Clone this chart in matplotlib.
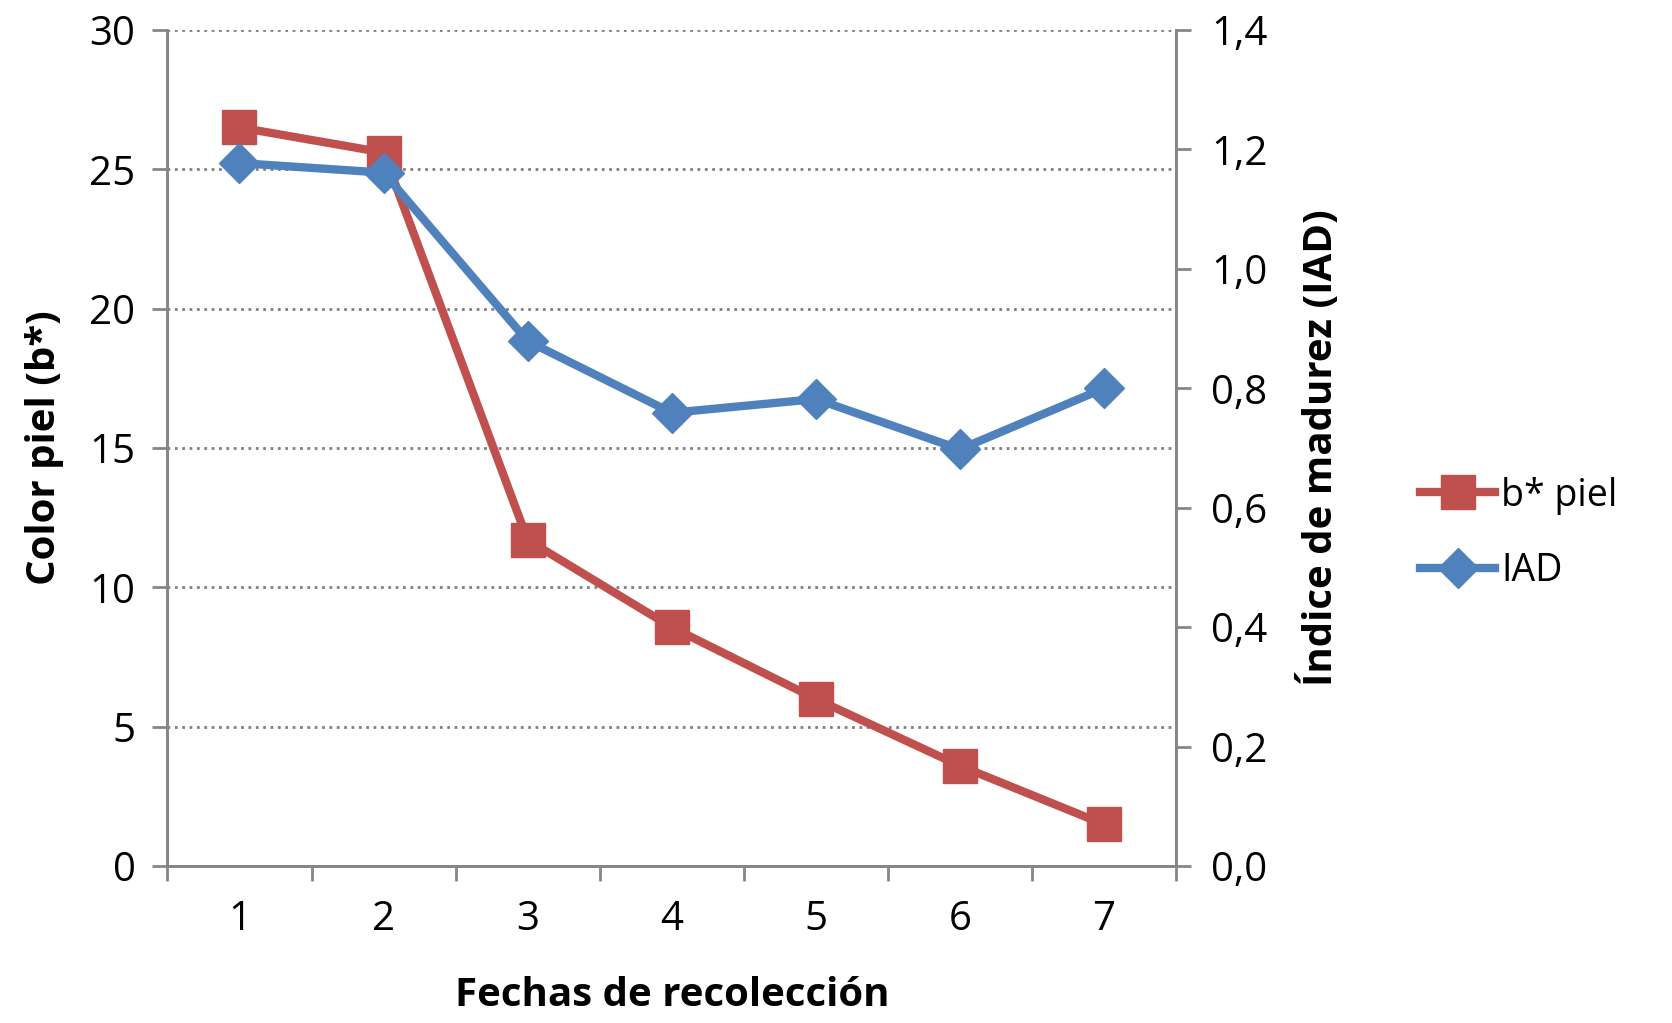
import matplotlib
matplotlib.use("Agg")
import matplotlib.pyplot as plt
from matplotlib.ticker import FixedLocator, NullFormatter

plt.rcParams['font.family'] = ['Open Sans', 'DejaVu Sans']

categories = ['1', '2', '3', '4', '5', '6', '7']
b_piel = [26.5, 25.6, 11.7, 8.57, 6.0, 3.6, 1.5]
iad = [1.177, 1.161, 0.879, 0.759, 0.782, 0.698, 0.80]
left_ticks = [0, 5, 10, 15, 20, 25, 30]
right_ticks = [0.0, 0.2, 0.4, 0.6, 0.8, 1.0, 1.2, 1.4]

W, H = 1568, 959
fig = plt.figure(figsize=(16.72, 10.23), dpi=100)
ax = fig.add_axes([157/W, 1-812/H, (1103-157)/W, (812-28)/H])
ax2 = ax.twinx()

x = list(range(len(categories)))
ax.set_xlim(-0.5, len(categories)-0.5)
ax.set_ylim(0, 30)
ax2.set_ylim(0, 1.4)

red = '#c0504d'; blue = '#4f81bd'; grey = '#868686'
fs = 29
ax.plot(x, b_piel, color=red, lw=6, marker='s', ms=24, zorder=3, label='b* piel')
ax2.plot(x, iad, color=blue, lw=6, marker='D', ms=20, zorder=3, label='IAD')

ax.set_yticks(left_ticks)
ax.set_yticklabels([str(t) for t in left_ticks], fontsize=fs)
ax2.set_yticks(right_ticks)
ax2.set_yticklabels([f"{t:.1f}".replace('.', ',') for t in right_ticks], fontsize=fs)
ax.set_xticks(x)
ax.set_xticklabels(categories, fontsize=fs)
ax.tick_params(axis='x', length=0, pad=24)
ax.xaxis.set_minor_locator(FixedLocator([i-0.5 for i in range(len(categories)+1)]))
ax.xaxis.set_minor_formatter(NullFormatter())
ax.tick_params(axis='x', which='minor', length=11, width=2, color=grey)
ax.tick_params(axis='y', length=11, width=2, color=grey, pad=12)
ax2.tick_params(axis='y', length=11, width=2, color=grey, pad=14)

for a in (ax, ax2):
    a.spines['top'].set_visible(False)
    for s in ['left', 'right', 'bottom']:
        a.spines[s].set_color(grey)
        a.spines[s].set_linewidth(2)
ax.grid(axis='y', linestyle=':', color='#808080', lw=2)
ax.set_axisbelow(True)

ax.set_xlabel('Fechas de recolección', fontsize=fs, fontweight='bold', labelpad=26)
ax.set_ylabel('Color piel (b*)', fontsize=fs, fontweight='bold', labelpad=18)
ax2.set_ylabel('Índice de madurez (IAD)', fontsize=fs, fontweight='bold', labelpad=22)

h1, l1 = ax.get_legend_handles_labels()
h2, l2 = ax2.get_legend_handles_labels()
fig.legend(h1+h2, l1+l2, loc='center left', bbox_to_anchor=(1318/W, 1-500/H),
           frameon=False, fontsize=27, handlelength=2.0, labelspacing=1.0,
           handletextpad=0.15, borderaxespad=0)

fig.savefig('out.png', dpi=100)
